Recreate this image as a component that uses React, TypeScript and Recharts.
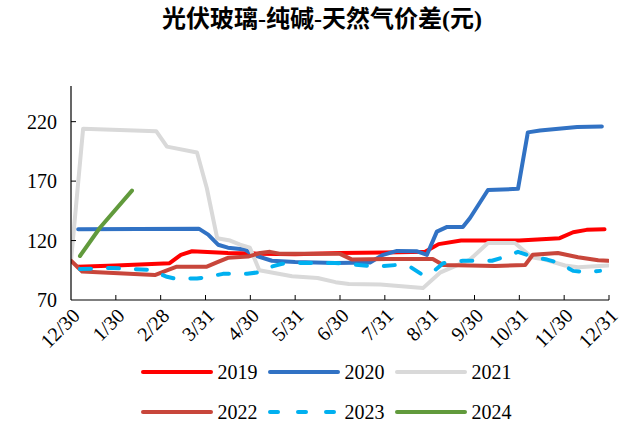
import React from 'react';
import { LineChart, Line, XAxis, YAxis } from 'recharts';

const monthLabels = ['12/30', '1/30', '2/28', '3/31', '4/30', '5/31', '6/30', '7/31', '8/31', '9/30', '10/31', '11/30', '12/31'];
const yTicks = [70, 120, 170, 220];

// [month position, value]
const s2019: [number, number][] = [
  [0.15, 98], [1, 99], [2.2, 101], [2.45, 108], [2.7, 111], [3.5, 109.5], [4.2, 109], [5, 108.5],
  [6, 109.5], [7, 110], [7.9, 110.5], [8.2, 117], [8.7, 120], [9.5, 120], [10, 120], [10.5, 121],
  [10.9, 122], [11.2, 127], [11.5, 129], [11.9, 129.5],
];
const s2020: [number, number][] = [
  [0.16, 129.5], [2.85, 130], [3.06, 125], [3.28, 116.5], [3.5, 114], [3.88, 112.5], [4.06, 108],
  [4.48, 103], [5, 102], [5.9, 101.2], [6.67, 101.5], [6.96, 108], [7.27, 111.3], [7.72, 111],
  [7.94, 108], [8.16, 127.5], [8.39, 131.5], [8.74, 131.5], [8.9, 139], [9.3, 162.5], [9.97, 163.5],
  [10.19, 211], [10.46, 212.5], [11.29, 215.5], [11.84, 216],
];
const s2021: [number, number][] = [
  [0, 103], [0.27, 214], [1.9, 212], [2.14, 199], [2.81, 194], [3.03, 164], [3.26, 122], [3.55, 120],
  [3.77, 116.5], [3.99, 114], [4.2, 95], [4.93, 90], [5.5, 88.5], [5.9, 85], [6.2, 83.5], [6.9, 83],
  [7.85, 80], [8.23, 93], [8.9, 104], [9.3, 118], [9.9, 118], [10.28, 106], [10.57, 104], [11.02, 99],
  [11.31, 97.5], [11.98, 99],
];
const s2022: [number, number][] = [
  [0, 103], [0.25, 94], [1.87, 91], [2.14, 95], [2.36, 98], [3.03, 98], [3.28, 102], [3.5, 105.5],
  [3.95, 106.5], [4.22, 109.5], [4.44, 110.5], [4.65, 109], [5, 108.8], [6, 108.8], [6.27, 104],
  [7.05, 104.5], [8.07, 104.5], [8.3, 99.5], [9.46, 98.7], [10.13, 99.5], [10.3, 108], [10.86, 109.5],
  [11.31, 106], [11.76, 103.5], [11.98, 103],
];
const s2023: [number, number][] = [
  [0.2, 96], [0.87, 97], [1.76, 95.3], [2.14, 89.5], [2.32, 88], [2.81, 88], [3.06, 89.5], [3.39, 92],
  [3.93, 92], [4.22, 93.5], [4.37, 97], [4.71, 100.5], [5, 101.2], [5.89, 101.2], [6.83, 98],
  [7.27, 99.5], [7.56, 98], [7.85, 91], [8.07, 93.5], [8.3, 101], [8.74, 103], [9.39, 103],
  [9.73, 107], [9.97, 110.5], [10.28, 106.5], [10.62, 104], [10.9, 101], [11.2, 94.5], [11.51, 93.5],
  [11.8, 94.5],
];
const s2024: [number, number][] = [[0.2, 107], [0.65, 131], [1.36, 162]];

const toRows = (arr: [number, number][]) => arr.map(([m, v]) => ({ m, v }));

const series = [
  { name: '2019', data: s2019, color: '#FF0000', dash: undefined as string | undefined },
  { name: '2020', data: s2020, color: '#3172C4', dash: undefined },
  { name: '2021', data: s2021, color: '#D9D9D9', dash: undefined },
  { name: '2022', data: s2022, color: '#C8463B', dash: undefined },
  { name: '2023', data: s2023, color: '#00B0F0', dash: '11 17' },
  { name: '2024', data: s2024, color: '#619A3C', dash: undefined },
];

const FONT = "'Liberation Serif', 'Times New Roman', serif";

const XTick = (props: any) => {
  const { x, y, payload } = props;
  const label = monthLabels[payload.value] ?? '';
  return (
    <g>
      {payload.value > 0 && <line x1={x} y1={y} x2={x} y2={y - 5} stroke="#000" strokeWidth={1} />}
      <text
        transform={`translate(${x + 10},${y + 17}) rotate(-45)`}
        textAnchor="end"
        fontSize={20}
        fontFamily={FONT}
        fill="#000"
      >
        {label}
      </text>
    </g>
  );
};

const YTick = (props: any) => {
  const { x, y, payload } = props;
  return (
    <g>
      {payload.value > 70 && <line x1={x} y1={y} x2={x + 5} y2={y} stroke="#000" strokeWidth={1} />}
      <text x={x - 14} y={y} dy="0.35em" textAnchor="end" fontSize={20} fontFamily={FONT} fill="#000">
        {payload.value}
      </text>
    </g>
  );
};

const LegendItem = ({ s }: { s: (typeof series)[number] }) => (
  <div style={{ display: 'flex', alignItems: 'center', marginRight: 10 }}>
    <svg width={72} height={8} style={{ marginRight: 5 }}>
      <line
        x1={2}
        y1={4}
        x2={70}
        y2={4}
        stroke={s.color}
        strokeWidth={4}
        strokeLinecap="round"
        strokeDasharray={s.dash ? '8 20' : undefined}
      />
    </svg>
    <span style={{ fontFamily: FONT, fontSize: 20, lineHeight: '20px', color: '#000' }}>{s.name}</span>
  </div>
);

export default function App() {
  return (
    <div style={{ position: 'relative', width: 626, height: 424, background: '#fff' }}>
      <style>{'body{margin:0;}'}</style>
      <div
        style={{
          position: 'absolute',
          top: 4,
          left: 0,
          width: 644,
          textAlign: 'center',
          fontFamily: "'Liberation Serif', 'Noto Sans CJK SC', serif",
          fontWeight: 'bold',
          fontSize: 24,
          lineHeight: '30px',
          color: '#000',
        }}
      >
        光伏玻璃-纯碱-天然气价差(元)
      </div>
      <LineChart width={626} height={424} margin={{ top: 86, right: 17, left: 0, bottom: 0 }}>
        <XAxis
          type="number"
          dataKey="m"
          domain={[0, 12]}
          ticks={[0, 1, 2, 3, 4, 5, 6, 7, 8, 9, 10, 11, 12]}
          tick={<XTick />}
          tickLine={false}
          tickSize={0}
          tickMargin={0}
          interval={0}
          height={124}
          axisLine={{ stroke: '#000', strokeWidth: 1.2 }}
          allowDataOverflow
        />
        <YAxis
          type="number"
          domain={[70, 250]}
          ticks={yTicks}
          tick={<YTick />}
          tickLine={false}
          tickSize={0}
          tickMargin={0}
          interval={0}
          width={71}
          axisLine={{ stroke: '#000', strokeWidth: 1.2 }}
          allowDataOverflow
        />
        {series.map((s) => (
          <Line
            key={s.name}
            data={toRows(s.data)}
            dataKey="v"
            name={s.name}
            type="linear"
            stroke={s.color}
            strokeWidth={4}
            strokeDasharray={s.dash}
            strokeLinecap="round"
            strokeLinejoin="round"
            dot={false}
            activeDot={false}
            isAnimationActive={false}
          />
        ))}
      </LineChart>
      <div style={{ position: 'absolute', left: 0, top: 362, width: 626, display: 'flex', justifyContent: 'center', paddingLeft: 36, boxSizing: 'border-box' }}>
        {series.slice(0, 3).map((s) => (
          <LegendItem key={s.name} s={s} />
        ))}
      </div>
      <div style={{ position: 'absolute', left: 0, top: 402, width: 626, display: 'flex', justifyContent: 'center', paddingLeft: 36, boxSizing: 'border-box' }}>
        {series.slice(3).map((s) => (
          <LegendItem key={s.name} s={s} />
        ))}
      </div>
    </div>
  );
}
